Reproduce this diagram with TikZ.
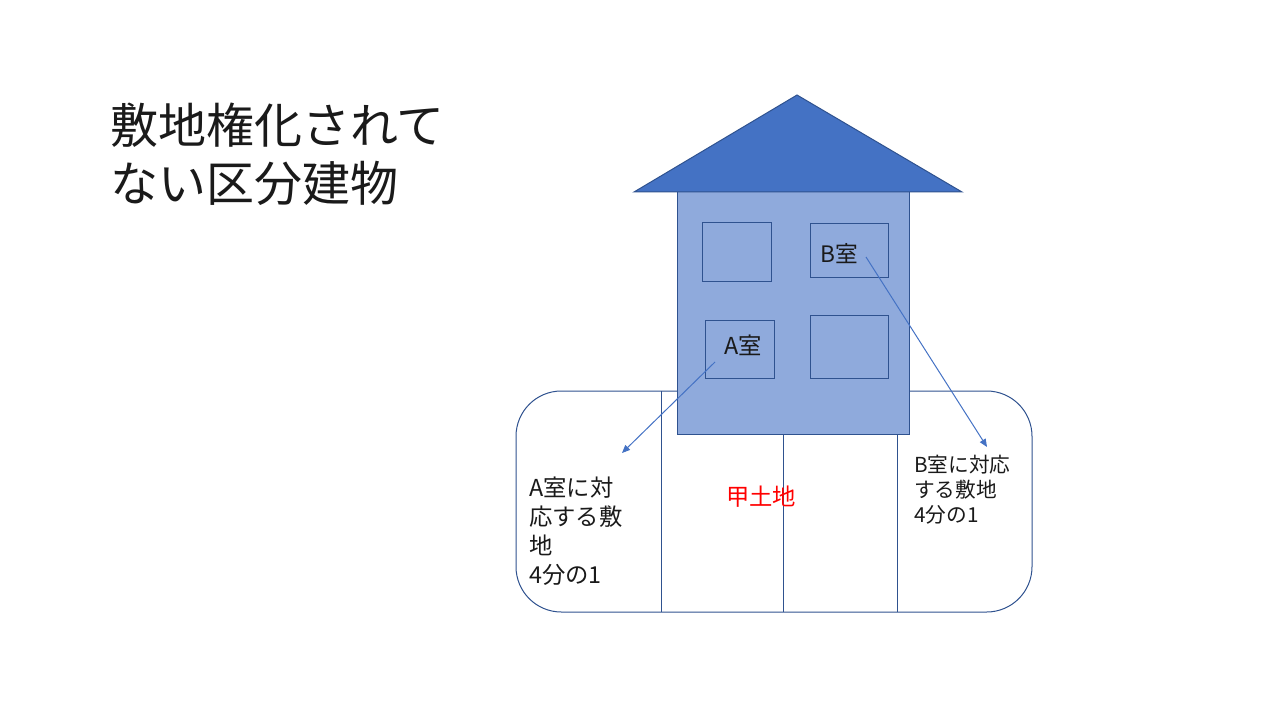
\documentclass[tikz,border=0pt]{standalone}
\usepackage{fontspec}
\setmainfont{Noto Sans CJK JP}
\usetikzlibrary{arrows.meta}
\definecolor{roofc}{HTML}{4472C4}
\definecolor{bodyc}{HTML}{8FAADC}
\definecolor{edgec}{HTML}{2F528F}
\definecolor{txtc}{HTML}{1A1A1A}
\tikzset{
  winbox/.style={draw=edgec, line width=0.75pt, fill=bodyc},
  landline/.style={draw=edgec, line width=0.75pt},
  arr/.style={draw=roofc, line width=0.75pt, -{Triangle[length=6pt,width=5pt]}},
  lbl/.style={inner sep=0pt, text=txtc, align=left, anchor=west},
}
\begin{document}
\begin{tikzpicture}[x=0.75pt,y=-0.75pt]
\useasboundingbox (0,0) rectangle (1280,720);
% land
\draw[landline, rounded corners=34pt] (516,391) rectangle (1032,612);
\coordinate (l1t) at (661,391); \coordinate (l1b) at (661,612);
\coordinate (l2t) at (783,391); \coordinate (l2b) at (783,612);
\coordinate (l3t) at (897,391); \coordinate (l3b) at (897,612);
\draw[landline] (l1t) -- (l1b);
\draw[landline] (l2t) -- (l2b);
\draw[landline] (l3t) -- (l3b);
% house
\draw[edgec, line width=0.75pt, fill=bodyc] (677,190) rectangle (909,434);
\draw[edgec, line width=0.75pt, fill=roofc] (634,192) -- (797,95) -- (962,192) -- cycle;
% windows
\draw[winbox] (702,223) rectangle (771,281);
\draw[winbox] (810,224) rectangle (888,277);
\draw[winbox] (705,320) rectangle (774,378);
\draw[winbox] (810,315) rectangle (888,378);
% texts
\node[lbl, font=\fontsize{36pt}{43.5pt}\selectfont] (title) at (110,154) {敷地権化されて\\ない区分建物};
\node[lbl, font=\fontsize{17pt}{20pt}\selectfont] (broom) at (820,254) {B室};
\node[lbl, font=\fontsize{17.5pt}{20pt}\selectfont] (aroom) at (724,345) {A室};
\node[lbl, font=\fontsize{17.5pt}{21.75pt}\selectfont] (aland) at (529,531) {A室に対\\応する敷\\地\\4分の1};
\node[lbl, font=\fontsize{15.5pt}{18.75pt}\selectfont] (bland) at (914,490) {B室に対応\\する敷地\\4分の1};
\node[inner sep=0pt, text=red, font=\fontsize{17.5pt}{20pt}\selectfont] (kou) at (761,497) {甲土地};
% arrows
\coordinate (as) at (715,362); \coordinate (ae) at (622,453);
\coordinate (bs) at (866,257); \coordinate (be) at (987,447);
\draw[arr] (as) -- (ae);
\draw[arr] (bs) -- (be);
\end{tikzpicture}
\end{document}
